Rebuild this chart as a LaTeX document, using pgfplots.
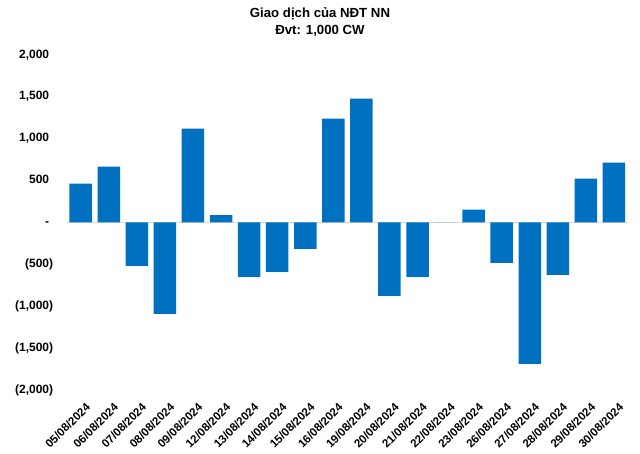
\documentclass[border=0pt]{standalone}
\usepackage{fontspec}
\setmainfont{Liberation Sans}
\usepackage{pgfplots}
\pgfplotsset{compat=1.18}
\definecolor{barblue}{RGB}{0,112,192}
\definecolor{zeroline}{RGB}{217,217,217}
\newcommand{\p}{\phantom{)}}
\begin{document}
\begin{tikzpicture}[x=1pt,y=1pt]
\useasboundingbox (0,0) rectangle (640,453);
\node[anchor=base, font=\bfseries\fontsize{13.2}{14}\selectfont] at (320,435) {Giao dịch của NĐT NN};
\node[anchor=base, font=\bfseries\fontsize{13.2}{14}\selectfont] at (320,418) {Đvt: 1,000 CW};
\begin{axis}[
  at={(66.7pt,63pt)}, anchor=south west,
  scale only axis, width=561.3pt, height=335pt,
  xmin=-0.5, xmax=19.5, ymin=-2000, ymax=2000,
  axis line style={draw=none},
  major tick length=0pt,
  ytick={-2000,-1500,...,2000},
  yticklabels={{(2,000)},{(1,500)},{(1,000)},{(500)},{-\p},{500\p},{1,000\p},{1,500\p},{2,000\p}},
  y tick label style={font=\bfseries\fontsize{12}{12}\selectfont, anchor=east, xshift=-10pt},
  xtick={0,...,19},
  xticklabels={05/08/2024,06/08/2024,07/08/2024,08/08/2024,09/08/2024,12/08/2024,13/08/2024,14/08/2024,15/08/2024,16/08/2024,19/08/2024,20/08/2024,21/08/2024,22/08/2024,23/08/2024,26/08/2024,27/08/2024,28/08/2024,29/08/2024,30/08/2024},
  x tick label style={font=\bfseries\fontsize{11.5}{12}\selectfont, rotate=45, anchor=north east, xshift=-2pt, yshift=-8pt},
  ybar, bar width=22.5pt,
]
\draw[zeroline, line width=1pt] (axis cs:-0.5,0) -- (axis cs:19.5,0);
\addplot[fill=barblue, draw=none] coordinates {
(0,465) (1,668) (2,-518) (3,-1091) (4,1122) (5,87) (6,-649) (7,-590) (8,-315) (9,1241)
(10,1480) (11,-876) (12,-649) (13,0) (14,155) (15,-482) (16,-1687) (17,-625) (18,525) (19,716)
};
\end{axis}
\end{tikzpicture}
\end{document}
